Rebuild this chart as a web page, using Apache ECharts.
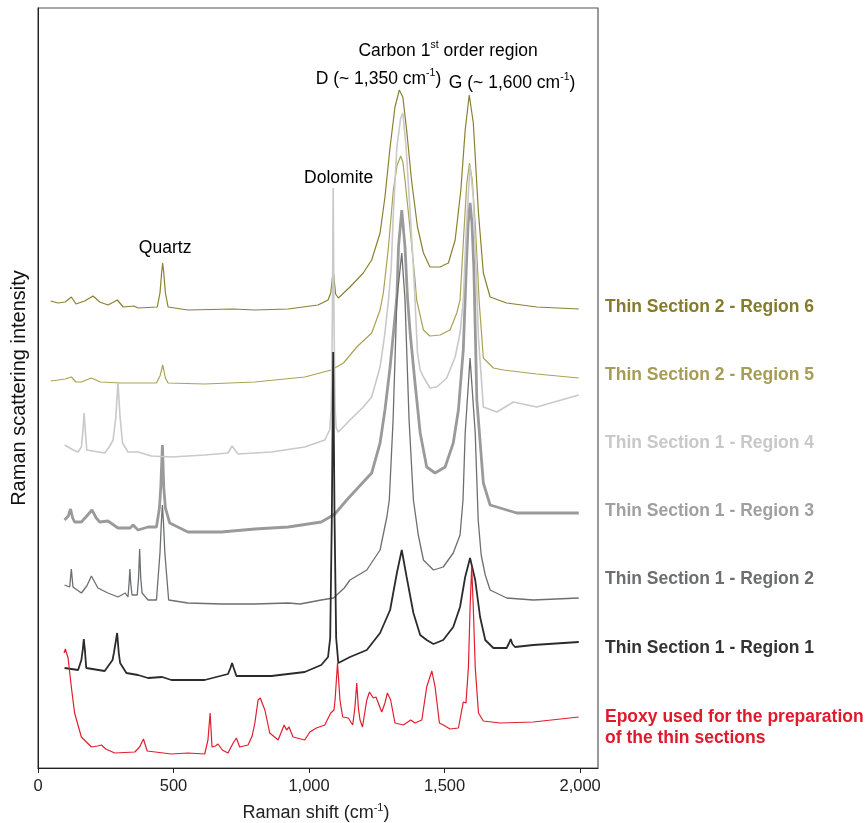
<!DOCTYPE html>
<html><head><meta charset="utf-8">
<script src="https://cdn.jsdelivr.net/npm/echarts@6/dist/echarts.min.js"></script>
<style>html,body{margin:0;padding:0;background:#fff}#c{width:866px;height:823px}</style>
</head><body><div id="c"></div>
<script>
// Raman shift (cm-1) vs intensity (a.u., vertically offset spectra)
const region6 = [[47,467],[74,465],[100,466],[123,471],[140,464],[172,467],[203,472],[228,466],[258,463],[293,468],[314,461],[354,462],[369,460],[440,461],[450,475],[456,495],[460,505],[464,495],[470,475],[480,461],[553,458],[720,459],[800,458],[923,459],[1033,463],[1070,468],[1080,475],[1086,490],[1089,498],[1092,490],[1098,474],[1108,470],[1151,481],[1200,495],[1231,508],[1262,535],[1280,571],[1299,621],[1317,661],[1333,678],[1346,671],[1360,638],[1378,588],[1400,541],[1422,515],[1446,501],[1483,501],[1514,505],[1539,528],[1560,578],[1576,638],[1591,673],[1606,645],[1625,555],[1643,495],[1668,471],[1729,465],[1840,461],[1995,459]];
const region5 = [[47,387],[100,389],[123,391],[140,386],[159,386],[197,390],[230,386],[306,385],[437,385],[450,392],[456,398],[460,403],[464,398],[470,390],[480,385],[615,384],[800,386],[984,391],[1082,398],[1127,405],[1176,421],[1231,435],[1262,458],[1274,475],[1293,521],[1311,578],[1325,603],[1338,612],[1346,606],[1354,588],[1373,538],[1391,488],[1397,468],[1422,438],[1446,432],[1483,433],[1520,438],[1545,455],[1557,468],[1570,530],[1582,585],[1592,605],[1602,588],[1614,540],[1628,465],[1643,410],[1680,400],[1717,398],[1840,394],[1995,390]];
const region4 = [[98,323],[130,318],[148,316],[160,321],[165,335],[170,355],[175,335],[180,318],[246,315],[265,322],[277,328],[287,350],[295,385],[303,350],[312,325],[332,316],[369,316],[418,312],[492,311],[615,313],[701,315],[716,322],[738,314],[861,316],[984,321],[1058,328],[1076,338],[1082,360],[1086,450],[1089,580],[1092,450],[1096,360],[1100,340],[1108,336],[1151,348],[1200,361],[1231,371],[1262,401],[1280,435],[1293,468],[1303,500],[1311,555],[1324,621],[1338,650],[1346,655],[1358,621],[1373,555],[1385,500],[1391,468],[1400,415],[1410,398],[1422,391],[1446,380],[1471,381],[1508,390],[1539,411],[1557,435],[1569,468],[1580,540],[1594,603],[1606,570],[1616,500],[1625,430],[1643,361],[1693,356],[1754,366],[1840,361],[1995,373]];
const region3 = [[98,248],[112,252],[120,259],[128,250],[135,246],[160,246],[180,252],[199,258],[215,250],[228,246],[258,247],[295,240],[340,240],[351,243],[369,238],[406,241],[437,241],[448,260],[453,281],[459,323],[464,281],[470,260],[486,245],[553,236],[676,236],[800,239],[923,241],[1045,246],[1077,251],[1095,254],[1139,268],[1200,286],[1231,295],[1262,325],[1280,358],[1299,401],[1317,451],[1324,471],[1330,521],[1342,558],[1354,521],[1363,471],[1373,435],[1391,385],[1410,335],[1434,301],[1465,295],[1502,301],[1532,325],[1551,358],[1569,418],[1580,500],[1587,545],[1594,565],[1601,545],[1608,500],[1619,368],[1643,285],[1668,263],[1766,255],[1995,255]];
const region2 = [[98,183],[117,181],[123,199],[129,181],[160,175],[180,182],[197,192],[221,180],[258,175],[295,171],[322,175],[332,171],[336,185],[339,199],[342,185],[347,173],[366,173],[371,190],[375,219],[379,190],[384,175],[406,168],[437,168],[450,215],[455,245],[459,263],[463,245],[468,215],[482,168],[553,165],[676,164],[800,164],[923,165],[967,164],[1045,168],[1090,170],[1130,180],[1151,188],[1213,198],[1262,218],[1287,251],[1296,268],[1310,348],[1324,468],[1342,515],[1354,468],[1369,348],[1385,268],[1403,233],[1422,208],[1459,198],[1495,201],[1532,215],[1539,213],[1557,233],[1568,268],[1576,335],[1594,410],[1613,335],[1624,248],[1635,213],[1650,193],[1668,178],[1729,170],[1827,168],[1995,170]];
const region1 = [[98,100],[148,98],[160,108],[165,118],[169,129],[173,118],[178,100],[246,97],[275,108],[280,115],[292,135],[298,115],[303,105],[326,95],[369,93],[406,90],[458,91],[492,88],[615,88],[701,94],[710,100],[716,105],[722,100],[732,92],[861,92],[984,96],[1045,103],[1070,111],[1078,130],[1084,250],[1089,416],[1094,250],[1100,130],[1108,105],[1151,111],[1213,118],[1262,135],[1299,158],[1324,195],[1342,218],[1360,191],[1385,155],[1410,133],[1434,128],[1459,124],[1495,128],[1532,141],[1557,161],[1576,191],[1594,210],[1613,188],[1631,151],[1650,128],[1680,120],[1729,120],[1738,125],[1744,129],[1750,124],[1760,121],[1827,123],[1995,126]];
const epoxy = [[96,115],[101,119],[111,110],[123,81],[135,55],[160,31],[197,21],[220,22],[234,23],[250,19],[283,15],[357,16],[375,21],[389,29],[403,17],[492,14],[553,15],[615,14],[627,28],[635,55],[642,21],[655,22],[664,24],[680,18],[701,15],[720,25],[732,30],[744,21],[775,23],[790,32],[800,45],[812,68],[820,70],[837,58],[855,35],[886,28],[908,43],[917,38],[926,41],[941,31],[984,28],[1003,36],[1027,40],[1058,43],[1080,55],[1092,58],[1096,68],[1105,105],[1114,68],[1124,51],[1145,50],[1161,43],[1169,60],[1176,85],[1182,60],[1188,48],[1197,41],[1213,68],[1223,76],[1237,70],[1247,71],[1268,56],[1280,65],[1289,75],[1301,68],[1317,45],[1348,43],[1375,48],[1391,45],[1416,48],[1434,81],[1453,97],[1465,81],[1481,45],[1502,42],[1520,39],[1551,40],[1569,66],[1579,65],[1588,101],[1594,160],[1600,201],[1606,160],[1613,101],[1625,55],[1643,47],[1705,45],[1827,46],[1995,51]];

const xTicks = [0, 500, 1000, 1500, 2000];
const seriesNames = ['Thin Section 2 - Region 6','Thin Section 2 - Region 5','Thin Section 1 - Region 4','Thin Section 1 - Region 3','Thin Section 1 - Region 2','Thin Section 1 - Region 1','Epoxy used for the preparation of the thin sections'];
const labelLines = [['Thin Section 2 - Region 6'],['Thin Section 2 - Region 5'],['Thin Section 1 - Region 4'],['Thin Section 1 - Region 3'],['Thin Section 1 - Region 2'],['Thin Section 1 - Region 1'],['Epoxy used for the preparation','of the thin sections']];
const seriesData = [region6, region5, region4, region3, region2, region1, epoxy];

const FONT = '"Liberation Sans", Arial, Helvetica, sans-serif';
const lineColors = ['#8a8130','#aba252','#c9c9c9','#9a9a9a','#6d6e71','#2b2b2b','#e11d2e'];
const textColors = ['#857b2b','#a69c55','#c8c8c8','#a0a0a0','#6d6e71','#333333','#e0192c'];
const widths = [1.2, 1.2, 1.6, 2.8, 1.3, 1.8, 1.2];
const drawOrder = [0,1,3,4,2,5,6];

const chart = echarts.init(document.getElementById('c'), null, {renderer:'canvas'});
const series = drawOrder.map((i, k) => ({
  name: seriesNames[i], type: 'line', data: seriesData[i], showSymbol: false, symbol: 'none',
  lineStyle: {color: lineColors[i], width: widths[i]}, z: 2 + k, animation: false, silent: true
}));

chart.setOption({
  animation: false,
  backgroundColor: '#fff',
  grid: {left: 38, right: 268, top: 8, bottom: 55, show: true, borderColor: '#555', borderWidth: 1.2,
         containLabel: false, outerBoundsMode: 'none'},
  xAxis: {
    type: 'value', min: 0, max: 2066,
    axisLine: {show: true, onZero: false, lineStyle: {color: '#222', width: 1}},
    axisTick: {show: true, customValues: xTicks, length: 5, lineStyle: {color: '#222'}},
    axisLabel: {customValues: xTicks, formatter: v => v.toLocaleString('en-US'), fontSize: 16.5, color: '#222', margin: 10, fontFamily: FONT},
    splitLine: {show: false},
    name: '{a|Raman shift (cm}{s|-1}{a|)}', nameLocation: 'middle', nameGap: 34,
    nameTextStyle: {padding: [0, 4, 0, 0], rich: {
      a: {fontSize: 18, color: '#222', fontFamily: FONT, lineHeight: 22},
      s: {fontSize: 11, color: '#222', fontFamily: FONT, lineHeight: 13, verticalAlign: 'top'}
    }}
  },
  yAxis: {
    type: 'value', min: 0, max: 760,
    axisLine: {show: true, lineStyle: {color: '#222', width: 1}},
    axisTick: {show: false}, axisLabel: {show: false}, splitLine: {show: false},
    name: 'Raman scattering intensity', nameLocation: 'middle', nameGap: 9,
    nameTextStyle: {fontSize: 20, color: '#111', fontFamily: FONT}
  },
  series: series
});

// annotations anchored in data coordinates
const rich = {
  a: {fontSize: 17.5, color: '#111', fontFamily: FONT, lineHeight: 22},
  s: {fontSize: 10.5, color: '#111', fontFamily: FONT, lineHeight: 13, verticalAlign: 'top'}
};
const annots = [
  {t: '{a|Carbon 1}{s|st}{a| order region}', at: [1513, 717]},
  {t: '{a|D (~ 1,350 cm}{s|-1}{a|)}', at: [1256, 689]},
  {t: '{a|G (~ 1,600 cm}{s|-1}{a|)}', at: [1749, 685]},
  {t: '{a|Dolomite}', at: [1109, 590]},
  {t: '{a|Quartz}', at: [469, 520]}
];
const graphics = annots.map(a => {
  const p = chart.convertToPixel({gridIndex: 0}, a.at);
  return {type: 'text', x: p[0], y: p[1], silent: true,
    style: {text: a.t, rich: rich, align: 'center', verticalAlign: 'middle'}};
});
// series name labels to the right of the plot
const labelY = [307, 375, 443, 511, 579, 648, 717];
labelLines.forEach((lines, i) => {
  lines.forEach((ln, j) => {
    graphics.push({type: 'text', x: 605, y: labelY[i] + j * 21, silent: true,
      style: {text: ln, fill: textColors[i], font: 'bold 17.5px ' + FONT, align: 'left', verticalAlign: 'middle'}});
  });
});
chart.setOption({graphic: graphics});
</script></body></html>
